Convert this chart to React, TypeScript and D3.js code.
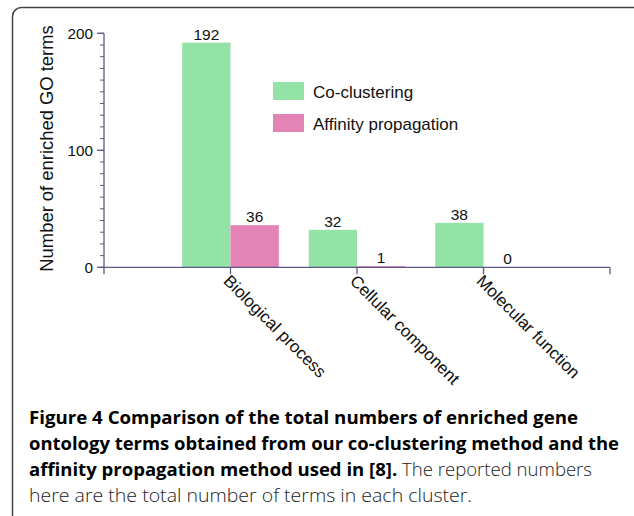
import React from "react";
import * as d3 from "d3";

const categories = ["Biological process", "Cellular component", "Molecular function"];
const coClustering = [192, 32, 38];
const affinityProp = [36, 1, 0];
const seriesNames = ["Co-clustering", "Affinity propagation"];
const seriesColors = ["#93e2a6", "#e483b6"];
const yTicks = [0, 100, 200];

// caption lines with the width each one takes in the figure
const captionLines = [
  { bold: "Figure 4 Comparison of the total numbers of enriched gene", rest: "", w: 549 },
  { bold: "ontology terms obtained from our co-clustering method and the", rest: "", w: 590 },
  { bold: "affinity propagation method used in [8].", rest: " The reported numbers", w: 563 },
  { bold: "", rest: "here are the total number of terms in each cluster.", w: 443 },
];

const axisColor = "#5d5985";
const font = "'Liberation Sans', Arial, Helvetica, sans-serif";

const App = () => {
  const width = 634;
  const height = 516;

  const x = d3.scaleLinear().domain([0, 4]).range([104, 610]);
  const y = d3.scaleLinear().domain([0, 200]).range([267.3, 33.3]);
  const barW = 0.382;

  const minorTicks = y.ticks(20);
  const series = [coClustering, affinityProp];

  return (
    <div style={{ position: "absolute", left: 0, top: 0 }}>
      <svg width={width} height={height} style={{ display: "block", background: "#fff" }}>
        {/* frame */}
        <rect x={12.5} y={7.5} width={640} height={530} rx={9} fill="none" stroke="#444" strokeWidth={1.5} />

        {/* bars */}
        {series.map((vals, s) =>
          vals.map((v, i) => {
            const x0 = s === 0 ? x(i + 1 - barW) : x(i + 1);
            const x1 = s === 0 ? x(i + 1) : x(i + 1 + barW);
            return (
              <g key={`${s}-${i}`}>
                <rect x={x0} y={y(v)} width={x1 - x0} height={y(0) - y(v)} fill={seriesColors[s]} />
                <text
                  x={(x0 + x1) / 2}
                  y={y(v) - 3}
                  textAnchor="middle"
                  fontFamily={font}
                  fontSize={15.5}
                  fill="#111"
                >
                  {v}
                </text>
              </g>
            );
          })
        )}

        {/* y axis */}
        <line x1={x(0)} x2={x(0)} y1={y(200)} y2={y(0)} stroke={axisColor} strokeWidth={1.3} />
        {minorTicks.map((t) => (
          <line key={t} x1={x(0) - 4} x2={x(0)} y1={y(t)} y2={y(t)} stroke={axisColor} strokeWidth={1} />
        ))}
        {yTicks.map((t) => (
          <g key={t}>
            <line x1={x(0) - 7} x2={x(0)} y1={y(t)} y2={y(t)} stroke={axisColor} strokeWidth={1.3} />
            <text x={x(0) - 11} y={y(t) + 5.4} textAnchor="end" fontFamily={font} fontSize={15.3} fill="#111">
              {t}
            </text>
          </g>
        ))}
        <text
          transform={`translate(53.3,148.5) rotate(-90)`}
          textAnchor="middle"
          fontFamily={font}
          fontSize={18.4}
          fill="#111"
        >
          Number of enriched GO terms
        </text>

        {/* x axis */}
        <line x1={x(0)} x2={x(4)} y1={y(0)} y2={y(0)} stroke={axisColor} strokeWidth={1.3} />
        {d3.range(0, 5).map((t) => (
          <line key={t} x1={x(t)} x2={x(t)} y1={y(0)} y2={y(0) + 7} stroke={axisColor} strokeWidth={1.3} />
        ))}
        {categories.map((c, i) => (
          <text
            key={c}
            transform={`translate(${x(i + 1) - 8},282) rotate(45)`}
            fontFamily={font}
            fontSize={17}
            fill="#111"
          >
            {c}
          </text>
        ))}

        {/* legend */}
        {seriesNames.map((n, i) => (
          <g key={n} transform={`translate(273,${82 + i * 32})`}>
            <rect width={31} height={18} fill={seriesColors[i]} />
            <text x={40} y={15.5} fontFamily={font} fontSize={17} fill="#111">
              {n}
            </text>
          </g>
        ))}

        {/* caption */}
        {captionLines.map((l, i) => (
          <text
            key={i}
            x={29}
            y={424 + i * 26}
            fontFamily="'Open Sans', 'Noto Sans', sans-serif"
            fontSize={18.5}
            textLength={l.w}
            lengthAdjust="spacingAndGlyphs"
          >
            {l.bold && (
              <tspan fontWeight="bold" fill="#000">
                {l.bold}
              </tspan>
            )}
            {l.rest && (
              <tspan fontWeight={300} fill="#222">
                {l.rest}
              </tspan>
            )}
          </text>
        ))}
      </svg>
    </div>
  );
};

export default App;
